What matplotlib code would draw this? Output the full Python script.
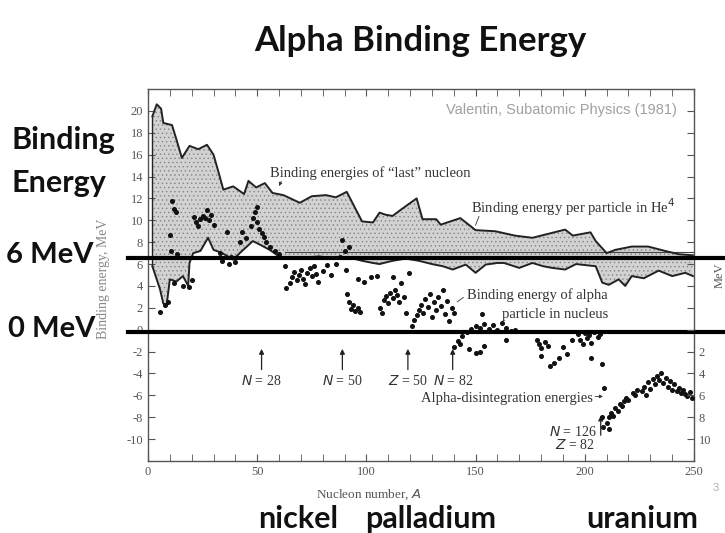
import matplotlib
matplotlib.use("Agg")
import matplotlib.pyplot as plt
import numpy as np

# ---------------- data ----------------
upper_x = [2, 4, 6, 7, 11, 13, 15.5, 19, 23, 27, 30, 32, 34.5, 39, 44, 46, 49.5, 53.5, 57, 62,
           69.5, 75, 81.5, 86, 91, 98, 103, 106, 109, 112, 116, 123, 125.7, 132, 134, 143, 150,
           159, 168, 176, 182, 191, 194.5, 202.6, 205, 210, 214, 221.5, 229, 236.8, 243, 249.5]
upper_y = [19.5, 20.6, 20.2, 18.9, 18.7, 17.4, 15.7, 16.8, 16.5, 16.9, 16.0, 14.6, 12.8, 13.1,
           12.4, 13.6, 13.0, 13.4, 12.5, 12.3, 11.6, 12.2, 12.3, 12.1, 12.6, 9.9, 9.8, 10.7, 10.5,
           10.4, 11.0, 12.0, 10.1, 10.1, 9.6, 10.2, 9.1, 9.0, 8.6, 8.4, 8.7, 9.15, 8.6, 8.9, 8.1,
           7.0, 7.3, 7.6, 7.6, 7.2, 6.9, 6.8]

lower_x = [2, 5.5, 7, 8.5, 10, 13, 16, 18.4, 19, 20.7, 24, 27.5, 30, 34, 39, 42, 48, 51, 55.7,
           60, 66, 72, 78.5, 85, 92, 98, 103, 106, 112, 118, 124, 130, 135, 139.5, 145.5, 150,
           154.6, 160, 163, 170, 176, 181, 185, 191, 196, 205, 208, 211, 215.5, 218.5, 221.5,
           227, 233.8, 240, 246, 249.5]
lower_y = [5.8, 3.7, 2.4, 2.2, 4.6, 4.4, 4.9, 4.0, 6.1, 7.0, 7.2, 8.4, 7.3, 7.0, 6.4, 7.0, 8.1,
           7.8, 7.3, 6.7, 6.5, 6.6, 6.7, 6.5, 6.6, 6.3, 6.1, 6.0, 6.3, 6.5, 6.3, 6.0, 5.8, 5.5,
           5.95, 5.2, 5.95, 6.1, 6.1, 5.65, 6.1, 5.8, 5.65, 5.5, 6.0, 5.8, 4.3, 4.1, 4.6, 4.0,
           4.9, 4.7, 5.4, 4.9, 5.2, 4.9]

# binding energy of alpha particle in nucleus (dots)
alpha_x = [5.5, 8, 9, 10, 10.5, 11, 12, 12, 13, 13.5, 16, 19, 20,
           21, 22, 23, 24, 25, 26, 27, 28, 29, 30, 33, 34, 36, 37, 38, 40,
           42, 43, 45, 47, 48, 49, 50, 50, 51, 52, 53, 54, 56, 58, 60,
           62.6, 63.3, 65, 66, 67, 68, 69, 70, 71, 72, 73, 74, 75, 76, 77, 78, 80, 82, 84,
           86, 88, 89, 90, 90.7, 92,
           91, 92, 93, 94, 95, 96, 97, 96, 99, 102,
           105, 106, 107, 108, 109, 110, 111, 112, 112, 113, 114, 115, 116, 117, 118, 119.6,
           121, 122, 123, 124, 125, 126, 127, 128, 129, 130, 131, 132, 133, 134, 135, 136,
           137, 138, 139, 140,
           142, 144, 146, 148, 150, 152, 153, 154, 156, 158, 160, 162, 164, 166, 168,
           140, 143, 147, 150, 152, 154, 163.7,
           178, 179, 180, 182, 183, 180, 184, 186, 188, 190, 192, 194,
           197, 198, 199, 200, 201, 202, 203, 204, 206, 207, 203, 208]
alpha_y = [1.6, 2.3, 2.5, 8.7, 7.2, 11.8, 11.0, 4.3, 10.8, 6.9, 4.0, 3.9, 4.5,
           10.3, 9.8, 9.5, 10.1, 10.4, 10.2, 10.9, 10.0, 10.5, 9.6, 7.0, 6.3, 8.9, 6.0, 6.6, 6.2,
           8.0, 8.9, 8.4, 9.5, 10.2, 10.8, 9.8, 11.2, 9.2, 8.8, 8.5, 8.0, 7.6, 7.2, 6.9,
           5.8, 3.8, 4.3, 4.8, 5.3, 4.5, 5.0, 5.5, 4.6, 4.2, 5.2, 5.6, 4.9, 5.8, 5.1, 4.4, 5.4, 5.9,
           5.0, 6.0, 6.6, 8.2, 7.2, 5.5, 7.6,
           3.3, 2.5, 1.9, 2.3, 1.7, 2.0, 1.6, 4.6, 4.4, 4.8,
           4.9, 2.0, 1.5, 2.7, 3.1, 2.4, 3.4, 2.9, 4.8, 3.6, 3.2, 2.5, 4.3, 3.0, 1.5, 5.2,
           0.3, 0.9, 1.3, 1.8, 2.3, 1.5, 2.8, 2.1, 3.3, 1.2, 2.5, 1.8, 3.0, 2.2, 3.6, 1.4,
           2.6, 0.8, 2.0, 1.5,
           -1.0, -0.6, -0.2, 0.1, 0.3, 0.2, 1.4, 0.5, 0.1, 0.4, 0.0, 0.6, 0.2, -0.1, 0.0,
           -1.6, -1.3, -1.8, -2.1, -2.0, -1.5, -0.9,
           -0.9, -1.3, -1.7, -1.1, -1.5, -2.4, -3.3, -3.0, -2.6, -1.6, -2.2, -0.9,
           -0.4, -0.9, -1.3, -0.3, -0.8, -0.5, -1.2, -0.2, -0.7, -0.4, -2.6, -3.1]

# alpha-disintegration energies (heavy nuclei)
dis_x = [208.7, 208, 208.5, 210, 211, 211, 212, 213, 214, 215, 216, 217, 218, 219, 220, 222,
         223, 224, 226, 227, 228, 229, 230, 231, 232, 233, 234, 235, 236, 237, 238, 239, 240,
         241, 242, 243, 244, 245, 246, 247, 248, 249]
dis_y = [-5.3, -8.0, -8.9, -8.5, -8.0, -9.1, -7.6, -7.9, -7.2, -7.4, -6.8, -7.0, -6.5, -6.2,
         -6.4, -5.8, -6.0, -5.5, -5.6, -5.2, -6.0, -4.8, -5.4, -4.5, -5.0, -4.2, -4.6, -4.0,
         -4.9, -4.4, -5.2, -4.7, -5.5, -5.0, -5.6, -5.3, -5.8, -5.5, -5.9, -6.1, -5.7, -6.2]

he4_level = 7.07
left_ticks = list(range(-10, 21, 2))
right_ticks = [-2, -4, -6, -8, -10]
right_labels = ["2", "4", "6", "8", "10"]
x_major = [0, 50, 100, 150, 200, 250]

shell_marks = [(52, "N = 28"), (89, "N = 50"), (119, "Z = 50"), (139.5, "N = 82")]

# ---------------- figure ----------------
plt.rcParams['hatch.linewidth'] = 0.5
fig = plt.figure(figsize=(7.25, 5.33), dpi=100)
ax = fig.add_axes([148 / 725, 1 - 461 / 533, 546 / 725, 372 / 533])
ax.set_xlim(0, 250)
ax.set_ylim(-12, 22)

serif = "Liberation Serif"
ink = "#333333"
fs_ann = 10.5

# band between the two "last nucleon" curves
grid_x = np.array(sorted(set(upper_x) | set(lower_x)))
up_i = np.interp(grid_x, upper_x, upper_y)
lo_i = np.interp(grid_x, lower_x, lower_y)
ax.fill_between(grid_x, lo_i, up_i, facecolor="#d2d2d2", edgecolor="#858585",
                hatch="....", linewidth=0, zorder=1)
ax.plot(upper_x, upper_y, color="#222222", lw=1.4, zorder=3)
ax.plot(lower_x, lower_y, color="#222222", lw=1.4, zorder=3)
ax.plot([upper_x[0], lower_x[0]], [upper_y[0], lower_y[0]], color="#222222", lw=1.0, zorder=3)
ax.axhline(he4_level, xmin=0.25, xmax=1.0, color="#444444", lw=0.8, zorder=2)

ax.plot(alpha_x, alpha_y, "o", color="#111111", ms=2.6, zorder=4)
ax.plot(dis_x, dis_y, "o", color="#111111", ms=2.6, zorder=4)

# ticks
ax.set_yticks(left_ticks)
ax.set_yticklabels([str(t) for t in left_ticks])
ax.set_xticks(x_major)
ax.set_xticks(list(range(0, 251, 10)), minor=True)
ax.tick_params(axis="both", which="both", direction="in", colors="#555555",
               labelcolor="#555555", labelsize=9)
ax.tick_params(axis="x", which="both", top=True, length=5)
ax.tick_params(axis="y", length=5)
for lab in ax.get_xticklabels() + ax.get_yticklabels():
    lab.set_fontfamily(serif)
for s in ax.spines.values():
    s.set_color("#555555")
    s.set_linewidth(1.0)

axr = ax.twinx()
axr.set_ylim(ax.get_ylim())
axr.set_yticks(left_ticks)
axr.set_yticklabels(["" if t not in right_ticks else right_labels[right_ticks.index(t)]
                     for t in left_ticks])
axr.tick_params(axis="y", direction="in", length=5, colors="#555555", labelsize=9)
for lab in axr.get_yticklabels():
    lab.set_fontfamily(serif)
for s in axr.spines.values():
    s.set_visible(False)
axr.set_ylabel("MeV", family=serif, fontsize=9, color="#555555", labelpad=2)

ax.set_xlabel("Nucleon number, $A$", family=serif, fontsize=9.5, color="#555555")
ax.xaxis.set_label_coords(0.405, -0.07)
ax.set_ylabel("Binding energy, MeV", family=serif, fontsize=10, color="#888888")
ax.yaxis.set_label_coords(-0.07, 0.49)

# annotations inside plot
ax.text(242, 20.1, "Valentin, Subatomic Physics (1981)", ha="right", va="center",
        family="Liberation Sans", fontsize=10.5, color="#a0a0a0")
ax.text(55.8, 14.3, "Binding energies of \u201clast\u201d nucleon", ha="left", va="center",
        family=serif, fontsize=fs_ann, color=ink)
ax.annotate("", xy=(59.5, 12.9), xytext=(61.5, 13.8),
            arrowprops=dict(arrowstyle="-|>", lw=0.6, color=ink, mutation_scale=5))
ax.text(148, 11.2, "Binding energy per particle in He$^4$", ha="left", va="center",
        family=serif, fontsize=fs_ann, color=ink)
ax.annotate("", xy=(149.5, 9.3), xytext=(152, 10.6),
            arrowprops=dict(arrowstyle="-", lw=0.6, color=ink))
ax.text(146, 3.2, "Binding energy of alpha", ha="left", va="center",
        family=serif, fontsize=fs_ann, color=ink)
ax.text(162, 1.35, "particle in nucleus", ha="left", va="center",
        family=serif, fontsize=fs_ann, color=ink)
ax.annotate("", xy=(140.5, 2.4), xytext=(145.5, 3.1),
            arrowprops=dict(arrowstyle="-", lw=0.6, color=ink))

for xm, lab in shell_marks:
    ax.annotate("", xy=(xm, -1.5), xytext=(xm, -3.9),
                arrowprops=dict(arrowstyle="-|>", lw=0.9, color="#222222", mutation_scale=7))
    ax.text(xm, -4.7, lab.replace("N", "$N$").replace("Z", "$Z$"), ha="center", va="center",
            family=serif, fontsize=10, color=ink)

ax.text(125, -6.25, "Alpha-disintegration energies", ha="left", va="center",
        family=serif, fontsize=fs_ann, color=ink)
ax.annotate("", xy=(209.6, -6.1), xytext=(203.5, -6.1),
            arrowprops=dict(arrowstyle="-|>", lw=0.6, color=ink, mutation_scale=5))
ax.text(205.5, -9.35, "$N$ = 126", ha="right", va="center", family=serif, fontsize=10, color=ink)
ax.text(204.5, -10.5, "$Z$ = 82", ha="right", va="center", family=serif, fontsize=10, color=ink)
ax.annotate("", xy=(207.3, -7.6), xytext=(207.3, -9.9),
            arrowprops=dict(arrowstyle="-|>", lw=0.9, color="#222222", mutation_scale=7))

# slide overlay: thick reference lines
for yl in (6.55, -0.2):
    ax.axhline(yl, xmin=-0.037, xmax=1.06, color="black", lw=3.0, clip_on=False, zorder=6)

# slide texts
slide_font = "Lato"
big = 22
fig.text(420 / 725, 1 - 41 / 533, "Alpha Binding Energy", ha="center", va="center",
         family=slide_font, fontweight="bold", fontsize=25, color="#111111")
fig.text(12 / 725, 1 - 140 / 533, "Binding", ha="left", va="center",
         family=slide_font, fontweight="bold", fontsize=big, color="#111111")
fig.text(12 / 725, 1 - 183 / 533, "Energy", ha="left", va="center",
         family=slide_font, fontweight="bold", fontsize=big, color="#111111")
fig.text(6 / 725, 1 - 255 / 533, "6 MeV", ha="left", va="center",
         family=slide_font, fontweight="bold", fontsize=21, color="#111111")
fig.text(8 / 725, 1 - 329 / 533, "0 MeV", ha="left", va="center",
         family=slide_font, fontweight="bold", fontsize=21, color="#111111")
for xc, lab in [(298, "nickel"), (431, "palladium"), (642, "uranium")]:
    fig.text(xc / 725, 1 - 519 / 533, lab, ha="center", va="center",
             family=slide_font, fontweight="bold", fontsize=big, color="#111111")
fig.text(716 / 725, 1 - 488 / 533, "3", ha="center", va="center",
         family="Liberation Sans", fontsize=8, color="#b0b0b0")

fig.savefig("out.png", dpi=100)
